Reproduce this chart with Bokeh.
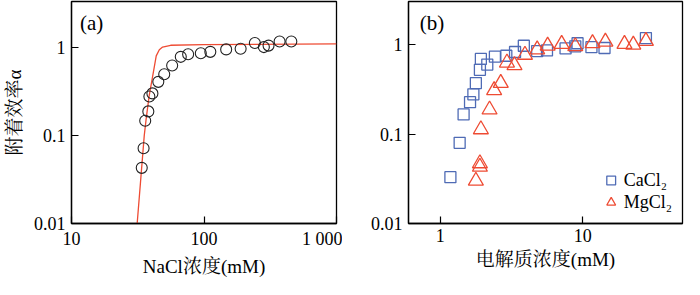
from bokeh.plotting import figure
from bokeh.layouts import row
from bokeh.models import FixedTicker, Label, Legend, LegendItem
from bokeh.embed import file_html
from bokeh.resources import INLINE

# ---------------- data ----------------
# panel (a): NaCl
nacl_x = [33.9, 35.0, 36.0, 38.0, 38.7, 40.8, 45.2, 50.1, 57.5, 66.8,
          75.9, 94.6, 111.6, 147, 189, 242, 283, 307, 372, 456]
nacl_y = [0.043, 0.072, 0.148, 0.189, 0.279, 0.303, 0.41, 0.50, 0.63, 0.79,
          0.845, 0.867, 0.90, 0.96, 0.975, 1.135, 1.02, 1.06, 1.18, 1.18]
fit_x = [31.3, 33.2, 35.4, 36.5, 38.5, 41.4, 43.6, 46.0, 48.7, 56.0, 100, 1000]
fit_y = [0.01, 0.03, 0.10, 0.15, 0.28, 0.52, 0.81, 0.95, 1.02, 1.07, 1.09, 1.11]

# panel (b): CaCl2 and MgCl2
ca_x = [1.18, 1.37, 1.46, 1.62, 1.71, 1.78, 1.90, 1.93, 2.14, 2.42, 2.91,
        3.35, 3.86, 4.79, 5.61, 7.57, 8.86, 9.19, 11.5, 14.2, 27.7]
ca_y = [0.033, 0.08, 0.166, 0.228, 0.279, 0.373, 0.524, 0.695, 0.60, 0.736, 0.754,
        0.83, 0.975, 0.85, 0.865, 0.91, 0.96, 1.04, 0.94, 0.92, 1.19]
mg_x = [1.78, 1.90, 1.90, 1.93, 2.22, 2.39, 2.66, 2.94, 3.32, 3.93, 4.79,
        5.67, 7.11, 8.86, 11.7, 14.4, 19.6, 22.6, 27.7]
mg_y = [0.030, 0.047, 0.043, 0.113, 0.188, 0.31, 0.373, 0.63, 0.59, 0.77, 0.885,
        0.975, 1.02, 0.96, 1.04, 1.08, 1.02, 1.00, 1.10]

xticks_a = [10, 100, 1000]
xticklabels_a = ["10", "100", "1 000"]
xticks_b = [1, 10]
xticklabels_b = ["1", "10"]
yticks = [0.01, 0.1, 1]
yticklabels = ["0.01", "0.1", "1"]

SERIF = "'Liberation Serif', 'Noto Serif CJK SC', 'Noto Sans CJK SC', serif"
RED = "#ee4b33"
BLUE = "#4f6bb5"


def style(p, xt, xl):
    p.xaxis.ticker = FixedTicker(ticks=xt)
    p.xaxis.major_label_overrides = {t: l for t, l in zip(xt, xl)}
    p.yaxis.ticker = FixedTicker(ticks=yticks)
    p.yaxis.major_label_overrides = {t: l for t, l in zip(yticks, yticklabels)}
    for ax in (p.xaxis, p.yaxis):
        ax.major_tick_in = 7
        ax.major_tick_out = 0
        ax.minor_tick_line_color = None
        ax.major_tick_line_color = "black"
        ax.major_tick_line_width = 1.2
        ax.axis_line_color = "black"
        ax.axis_line_width = 1.3
        ax.major_label_text_font = SERIF
        ax.major_label_text_font_size = "18px"
        ax.major_label_text_color = "black"
        ax.axis_label_text_font = SERIF
        ax.axis_label_text_font_size = "19px"
        ax.axis_label_text_font_style = "normal"
        ax.axis_label_text_color = "black"
    p.xaxis.major_label_standoff = 5
    p.yaxis.major_label_standoff = 6
    p.xaxis.axis_label_standoff = 4
    p.yaxis.axis_label_standoff = 6
    p.grid.visible = False
    p.outline_line_color = "black"
    p.outline_line_width = 1.3
    p.outline_line_alpha = 1.0


pa = figure(width=342, height=279, x_axis_type="log", y_axis_type="log",
            x_range=(10, 1000), y_range=(0.01, 3.37),
            output_backend="svg", toolbar_location=None,
            min_border_left=63, min_border_right=6,
            min_border_top=1, min_border_bottom=56)
style(pa, xticks_a, xticklabels_a)
pa.xaxis.axis_label = "NaCl浓度(mM)"
pa.yaxis.axis_label = "附着效率α"
pa.line(fit_x, fit_y, line_color=RED, line_width=1.3)
pa.scatter(nacl_x, nacl_y, marker="circle", size=11, fill_color=None,
           line_color="#222222", line_width=1.1)
pa.add_layout(Label(x=11.6, y=2.6, text="(a)", text_font=SERIF,
                    text_font_size="21px", text_baseline="top", text_color="black"))

pb = figure(width=342, height=279, x_axis_type="log", y_axis_type="log",
            x_range=(0.6, 50), y_range=(0.01, 3.05),
            output_backend="svg", toolbar_location=None,
            min_border_left=66, min_border_right=2,
            min_border_top=1, min_border_bottom=56)
style(pb, xticks_b, xticklabels_b)
pb.xaxis.axis_label = "电解质浓度(mM)"
r_ca = pb.scatter(ca_x, ca_y, marker="square", size=11, fill_color=None,
                  line_color=BLUE, line_width=1.3)
r_mg = pb.scatter(mg_x, mg_y, marker="triangle", size=15, fill_color=None,
                  line_color=RED, line_width=1.3)
pb.add_layout(Label(x=0.72, y=2.4, text="(b)", text_font=SERIF,
                    text_font_size="21px", text_baseline="top", text_color="black"))
legend = Legend(items=[LegendItem(label="CaCl₂", renderers=[r_ca]),
                       LegendItem(label="MgCl₂", renderers=[r_mg])],
                location="bottom_right")
legend.label_text_font = SERIF
legend.label_text_font_size = "18px"
legend.label_text_color = "black"
legend.glyph_width = 22
legend.glyph_height = 22
legend.label_standoff = 2
legend.spacing = 0
legend.padding = 4
legend.margin = 10
legend.border_line_color = None
legend.background_fill_alpha = 0
pb.add_layout(legend)

layout = row(pa, pb)
open("out.html", "w").write(file_html(layout, INLINE))
